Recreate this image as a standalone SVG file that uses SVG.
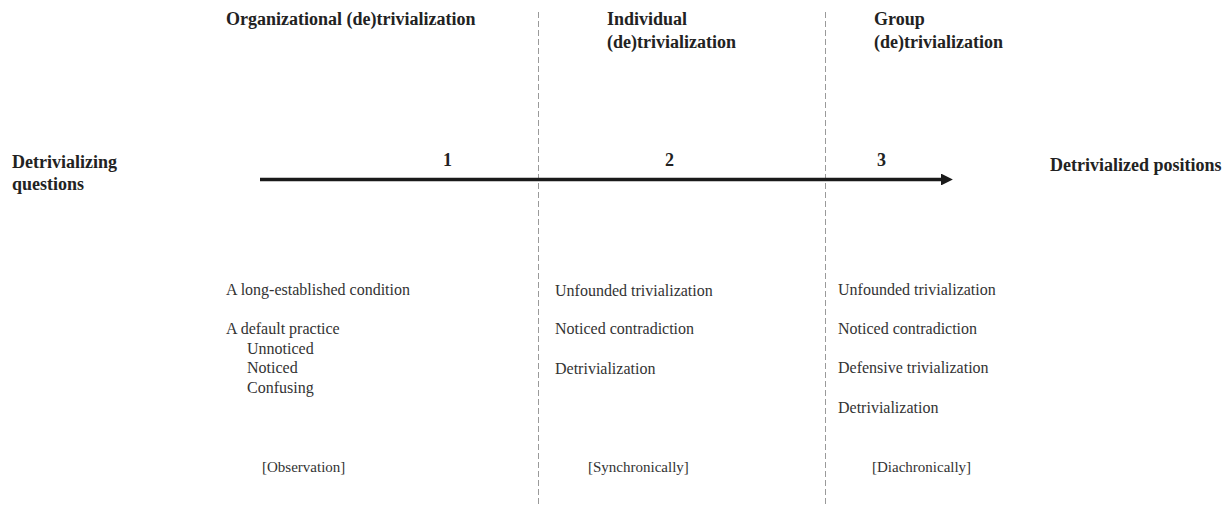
<svg xmlns="http://www.w3.org/2000/svg" width="1228" height="506" viewBox="0 0 1228 506">
  <style>
    .head { font-family: "Liberation Serif", "Times New Roman", serif; font-weight: bold; font-size: 18px; fill: #222; }
    .body { font-family: "Liberation Serif", "Times New Roman", serif; font-size: 16px; fill: #333; }
    .note { font-family: "Liberation Serif", "Times New Roman", serif; font-size: 15px; fill: #333; }
    .divider { stroke: #9a9a9a; stroke-width: 1; stroke-dasharray: 6 3; fill: none; }
  </style>
  <defs>
    <marker id="arrowhead" viewBox="0 0 10 10" refX="0" refY="5" markerWidth="3.4" markerHeight="3.4" markerUnits="strokeWidth" orient="auto">
      <path d="M0,0 L10,5 L0,10 Z" fill="#1a1a1a"/>
    </marker>
  </defs>

  <rect width="1228" height="506" fill="#ffffff"/>

  <!-- stage dividers -->
  <g id="dividers">
    <line class="divider" x1="538.5" y1="12" x2="538.5" y2="506"/>
    <line class="divider" x1="825.5" y1="12" x2="825.5" y2="506"/>
  </g>

  <!-- main process axis -->
  <g id="connectors">
    <line x1="260" y1="179.5" x2="941" y2="179.5" stroke="#1a1a1a" stroke-width="3.5" marker-end="url(#arrowhead)"/>
  </g>

  <g id="start">
    <text class="head" x="12" y="168">Detrivializing</text>
    <text class="head" x="12" y="190">questions</text>
  </g>

  <g id="end">
    <text class="head" x="1050" y="171">Detrivialized positions</text>
  </g>

  <g id="stage-organizational">
    <text class="head" x="226" y="25">Organizational (de)trivialization</text>
    <text class="head" x="443" y="166">1</text>
    <text class="body" x="226" y="295">A long-established condition</text>
    <text class="body" x="226" y="334">A default practice</text>
    <text class="body" x="247" y="354">Unnoticed</text>
    <text class="body" x="247" y="373">Noticed</text>
    <text class="body" x="247" y="393">Confusing</text>
    <text class="note" x="262" y="472">[Observation]</text>
  </g>

  <g id="stage-individual">
    <text class="head" x="607" y="25">Individual</text>
    <text class="head" x="607" y="48">(de)trivialization</text>
    <text class="head" x="665" y="166">2</text>
    <text class="body" x="555" y="296">Unfounded trivialization</text>
    <text class="body" x="555" y="334">Noticed contradiction</text>
    <text class="body" x="555" y="374">Detrivialization</text>
    <text class="note" x="588" y="472">[Synchronically]</text>
  </g>

  <g id="stage-group">
    <text class="head" x="874" y="25">Group</text>
    <text class="head" x="874" y="48">(de)trivialization</text>
    <text class="head" x="877" y="166">3</text>
    <text class="body" x="838" y="295">Unfounded trivialization</text>
    <text class="body" x="838" y="334">Noticed contradiction</text>
    <text class="body" x="838" y="373">Defensive trivialization</text>
    <text class="body" x="838" y="413">Detrivialization</text>
    <text class="note" x="872" y="472">[Diachronically]</text>
  </g>
</svg>
